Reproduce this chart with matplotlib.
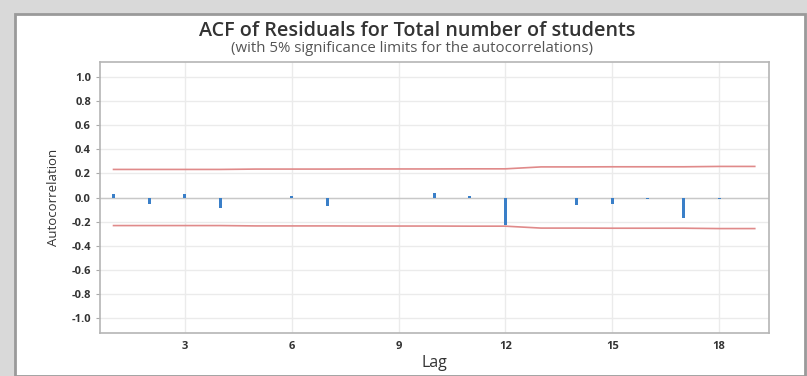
import matplotlib.pyplot as plt
from matplotlib.patches import Rectangle

lags = list(range(1, 20))
acf = [0.03, -0.05, 0.03, -0.09, -0.005, 0.01, -0.07, -0.004, -0.003, 0.04,
       0.01, -0.23, -0.004, -0.06, -0.05, -0.01, -0.17, -0.01, -0.004]
upper = [0.233, 0.233, 0.233, 0.233, 0.236, 0.236, 0.236, 0.237, 0.237, 0.237,
         0.238, 0.238, 0.254, 0.254, 0.255, 0.255, 0.255, 0.258, 0.258]
lower = [-u for u in upper]
xticks = [3, 6, 9, 12, 15, 18]
yticks = [1.0, 0.8, 0.6, 0.4, 0.2, 0.0, -0.2, -0.4, -0.6, -0.8, -1.0]

plt.rcParams['font.family'] = ['Open Sans', 'DejaVu Sans']

fig = plt.figure(figsize=(8.07, 3.76), dpi=100)
fig.patch.set_facecolor('#d9d9d9')
# white panel with grey frame, like the screenshot border
fig.patches.append(Rectangle((15 / 807, 0), 790 / 807, 362 / 376, transform=fig.transFigure,
                             facecolor='white', edgecolor='#9a9a9a', linewidth=2, zorder=-10))

ax = fig.add_axes([100 / 807, 43 / 376, 669 / 807, 271 / 376])
ax.set_zorder(1)
ax.set_facecolor('white')

ax.bar(lags, acf, width=0.08, color='#3a7fc8', zorder=3)
ax.plot(lags, upper, color='#e08a8a', linewidth=1.2, zorder=2)
ax.plot(lags, lower, color='#e08a8a', linewidth=1.2, zorder=2)
ax.axhline(0, color='#c8c8c8', linewidth=1, zorder=1)

ax.set_xlim(0.62, 19.4)
ax.set_ylim(-1.125, 1.125)
ax.set_xticks(xticks)
ax.set_yticks(yticks)
ax.set_yticklabels([f'{v:.1f}' for v in yticks])
ax.tick_params(axis='both', labelsize=8, colors='#333333', length=3, color='#aaaaaa')
ax.tick_params(axis='x', length=0, pad=6)
for lbl in ax.get_xticklabels() + ax.get_yticklabels():
    lbl.set_fontweight('bold')
ax.grid(True, color='#ebebeb', linewidth=1, zorder=0)
ax.set_axisbelow(True)
for s in ax.spines.values():
    s.set_color('#b5b5b5')
    s.set_linewidth(1.2)

ax.set_xlabel('Lag', fontsize=11.5, fontweight='medium', color='#333333', labelpad=2)
ax.set_ylabel('Autocorrelation', fontsize=9.5, color='#333333', labelpad=8)

fig.text(417 / 807, 1 - 31 / 376, 'ACF of Residuals for Total number of students',
         ha='center', va='center', fontsize=14.2, fontweight='semibold', color='#333333')
fig.text(412 / 807, 1 - 49 / 376, '(with 5% significance limits for the autocorrelations)',
         ha='center', va='center', fontsize=10.8, color='#555555')

fig.savefig('out.png', dpi=100)
